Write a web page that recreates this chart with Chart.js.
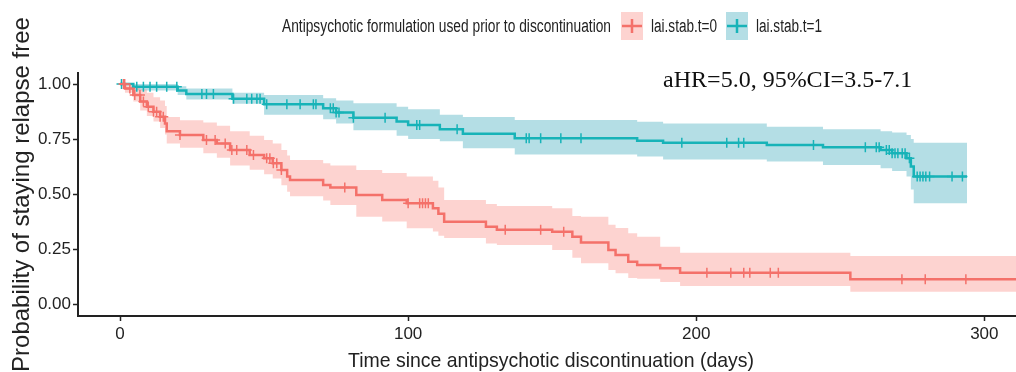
<!DOCTYPE html>
<html lang="en">
<head>
<meta charset="UTF-8">
<title>Relapse-free survival by formulation</title>
<script src="https://cdn.jsdelivr.net/npm/chart.js@4.4.1/dist/chart.umd.min.js"></script>
<style>
  html, body { margin: 0; padding: 0; background: #fff; }
</style>
</head>
<body>
<canvas id="chart" width="1016" height="372"></canvas>

<script>
// Kaplan-Meier estimates: days, survival, 95% CI, censor times

// lai.stab.t=0
const t0Times = [0, 1.7, 4.6, 7, 9.3, 11.6, 13.9, 15.6, 16.2, 20.8, 28.9, 33.6, 38.2, 45, 50, 53, 56, 58, 59, 70.5,
                 73, 82, 91, 99.5, 108.6, 110.5, 112.5, 127, 130.8, 150, 157, 160, 169.5, 172, 176.4, 179.5, 187.5, 194.4, 253.5, 311];
const t0Surv  = [1.0, 0.98, 0.95, 0.92, 0.897, 0.874, 0.851, 0.821, 0.785, 0.768, 0.745, 0.73, 0.70, 0.677, 0.662, 0.64, 0.609, 0.579, 0.564, 0.541,
                 0.53, 0.495, 0.473, 0.458, 0.435, 0.41, 0.374, 0.351, 0.338, 0.329, 0.306, 0.28, 0.245, 0.223, 0.192, 0.177, 0.162, 0.142, 0.112, 0.112];
const t0Upper = [1.0, 1.0, 0.99, 0.975, 0.96, 0.94, 0.925, 0.90, 0.85, 0.835, 0.825, 0.81, 0.785, 0.765, 0.745, 0.73, 0.70, 0.675, 0.655, 0.64,
                 0.63, 0.609, 0.595, 0.579, 0.56, 0.53, 0.473, 0.455, 0.445, 0.435, 0.40, 0.397, 0.36, 0.345, 0.322, 0.306, 0.26, 0.233, 0.218, 0.218];
const t0Lower = [1.0, 0.96, 0.92, 0.88, 0.855, 0.83, 0.80, 0.77, 0.73, 0.71, 0.685, 0.665, 0.63, 0.61, 0.59, 0.57, 0.54, 0.51, 0.49, 0.47,
                 0.45, 0.397, 0.375, 0.344, 0.33, 0.31, 0.30, 0.275, 0.268, 0.245, 0.21, 0.185, 0.155, 0.14, 0.118, 0.115, 0.10, 0.082, 0.056, 0.056];
const t0Censor = [1.2, 1.6, 3.4, 5.1, 6.9, 8.1, 9.8, 11.6, 12.7, 13.9, 15.0, 20.8, 30, 33, 36.5, 38.8, 40.5, 44, 46.3, 50.9,
                  52, 53.2, 54.4, 56, 78, 100, 104, 105, 106, 107, 133.7, 146, 154, 203.7, 212, 216.5, 218.6, 225.7, 228.5, 271.4, 279.5, 293.6];

// lai.stab.t=1
const t1Times = [0, 4.6, 20, 23, 39, 50, 70.5, 75, 81, 96, 100, 111, 119, 137, 179.5, 188.5, 224.5, 244, 264, 268, 273, 274.5, 275.5, 294];
const t1Surv  = [1.0, 0.988, 0.97, 0.955, 0.933, 0.908, 0.89, 0.87, 0.847, 0.83, 0.814, 0.794, 0.774, 0.753, 0.742, 0.733, 0.723, 0.712, 0.70, 0.685, 0.662, 0.625, 0.579, 0.579];
const t1Upper = [1.0, 1.0, 0.99, 0.98, 0.96, 0.95, 0.935, 0.925, 0.912, 0.897, 0.885, 0.86, 0.85, 0.836, 0.828, 0.82, 0.806, 0.794, 0.785, 0.78, 0.768, 0.75, 0.733, 0.733];
const t1Lower = [1.0, 0.97, 0.95, 0.93, 0.91, 0.86, 0.84, 0.82, 0.79, 0.765, 0.75, 0.74, 0.708, 0.68, 0.67, 0.657, 0.648, 0.632, 0.617, 0.605, 0.579, 0.52, 0.458, 0.458];
const t1Censor = [0.5, 5.8, 8.1, 10.4, 12.7, 16.2, 19.7, 28.4, 30, 32.4, 39.4, 44, 45.7, 47.5, 48.6, 50.9, 57.9, 62.5, 67.1, 68,
                  73, 74, 75, 76, 81, 92, 103, 104, 117, 141, 142, 146, 153, 160, 195, 210.6, 214.7, 216.5, 240.7, 258.7,
                  262.5, 263.5, 266, 267, 268, 269, 270, 271.5, 272.5, 274, 276.7, 277.7, 278.7, 279.7, 281, 288.8, 292.4];

const groupNames = ['lai.stab.t=0', 'lai.stab.t=1'];
const xTicks = [0, 100, 200, 300];
const yTicks = [0, 0.25, 0.5, 0.75, 1];
const legendTitle = 'Antipsychotic formulation used prior to discontinuation';
const xTitle = 'Time since antipsychotic discontinuation (days)';
const yTitle = 'Probability of staying relapse free';
const hrLabel = 'aHR=5.0, 95%CI=3.5-7.1';

const RED = '#F4716A', RED_BAND = 'rgba(248,118,109,0.32)';
const TEAL = '#17B3B8', TEAL_BAND = 'rgba(40,160,180,0.35)';
const SANS = '"Liberation Sans", Arial, sans-serif';
const INK = '#222';

function pts(xs, ys) {
    return xs.map((x, i) => ({ x: x, y: ys[i] }));
}

// censored subjects sit on the step curve at their censor time
function censorPts(censor, times, surv) {
    return censor.map(t => {
        let k = 0;
        for (let i = 0; i < times.length; i++) if (times[i] <= t) k = i;
        return { x: t, y: surv[k] };
    });
}

function bandSets(times, upper, lower, color) {
    return [
        { data: pts(times, upper), stepped: 'before', borderWidth: 0, pointRadius: 0, backgroundColor: color, fill: '+1', order: 3 },
        { data: pts(times, lower), stepped: 'before', borderWidth: 0, pointRadius: 0, backgroundColor: color, fill: false, order: 3 }
    ];
}

// the source figure uses a tall, narrow face: squeeze text to a target width
function narrowText(ctx, text, x, y, width, align) {
    const w = ctx.measureText(text).width;
    const k = width / w;
    ctx.save();
    ctx.translate(align === 'center' ? x - width / 2 : x, y);
    ctx.scale(k, 1);
    ctx.textAlign = 'left';
    ctx.fillText(text, 0, 0);
    ctx.restore();
}

// legend, x title and hazard ratio text
const overlay = {
    id: 'overlay',
    afterDraw(chart) {
        const ctx = chart.ctx;
        const sx = chart.scales.x, sy = chart.scales.y;
        const area = chart.chartArea;
        ctx.save();

        ctx.font = '24px "Liberation Serif", "Times New Roman", serif';
        ctx.fillStyle = '#111';
        ctx.textBaseline = 'middle';
        ctx.textAlign = 'left';
        ctx.fillText(hrLabel, sx.getPixelForValue(188.5), sy.getPixelForValue(1.015));

        ctx.textBaseline = 'alphabetic';
        ctx.fillStyle = INK;
        ctx.font = '21px ' + SANS;
        narrowText(ctx, xTitle, (area.left + area.right) / 2 + 4, 367, 406, 'center');

        ctx.font = '18px ' + SANS;
        const base = 32;
        narrowText(ctx, legendTitle, 282, base, 329);
        const keys = [[RED, RED_BAND, 621], [TEAL, TEAL_BAND, 726]];
        keys.forEach((k, i) => {
            const x = k[2];
            ctx.fillStyle = k[1];
            ctx.fillRect(x, 12, 22, 28);
            ctx.strokeStyle = k[0];
            ctx.lineWidth = 2.5;
            ctx.beginPath();
            ctx.moveTo(x + 1, 26); ctx.lineTo(x + 21, 26);
            ctx.moveTo(x + 11, 19); ctx.lineTo(x + 11, 33);
            ctx.stroke();
            ctx.fillStyle = INK;
            narrowText(ctx, groupNames[i], x + 30, base, 66);
        });
        ctx.restore();
    }
};

new Chart(document.getElementById('chart'), {
    type: 'line',
    data: {
        datasets: [
            { data: censorPts(t0Censor, t0Times, t0Surv), showLine: false, pointStyle: 'cross', pointRadius: 5,
              pointBorderWidth: 1.5, borderColor: RED, order: 1 },
            { data: censorPts(t1Censor, t1Times, t1Surv), showLine: false, pointStyle: 'cross', pointRadius: 5,
              pointBorderWidth: 1.5, borderColor: TEAL, order: 1 },
            { data: pts(t0Times, t0Surv), stepped: 'before', borderColor: RED, borderWidth: 2.5, pointRadius: 0, fill: false, order: 2 },
            { data: pts(t1Times, t1Surv), stepped: 'before', borderColor: TEAL, borderWidth: 2.5, pointRadius: 0, fill: false, order: 2 },
            ...bandSets(t0Times, t0Upper, t0Lower, RED_BAND),
            ...bandSets(t1Times, t1Upper, t1Lower, TEAL_BAND)
        ]
    },
    options: {
        responsive: false,
        animation: false,
        events: [],
        layout: { autoPadding: false, padding: { top: 73, left: 0, right: 0, bottom: 0 } },
        plugins: { legend: { display: false }, tooltip: { enabled: false } },
        scales: {
            x: {
                type: 'linear',
                min: -14.6,
                max: 311,
                afterBuildTicks: s => { s.ticks = xTicks.map(v => ({ value: v })); },
                afterFit: s => { s.height = 56; },
                ticks: { color: INK, font: { family: SANS, size: 17 }, padding: 3, maxRotation: 0 },
                grid: { drawOnChartArea: false, drawTicks: true, tickLength: 5, tickWidth: 1.5, tickColor: INK },
                border: { display: true, color: INK, width: 2 }
            },
            y: {
                type: 'linear',
                min: -0.0545,
                max: 1.05,
                afterBuildTicks: s => { s.ticks = yTicks.map(v => ({ value: v })); },
                afterFit: s => { s.width = 78; },
                ticks: { color: INK, font: { family: SANS, size: 17 }, padding: 2, callback: v => v.toFixed(2) },
                grid: { drawOnChartArea: false, drawTicks: true, tickLength: 5, tickWidth: 1.5, tickColor: INK },
                border: { display: true, color: INK, width: 2 },
                title: { display: true, text: yTitle, color: INK,
                         font: { family: SANS, size: 24, lineHeight: 1 }, padding: { top: 10, bottom: 0 } }
            }
        }
    },
    plugins: [overlay]
});
</script>
</body>
</html>
